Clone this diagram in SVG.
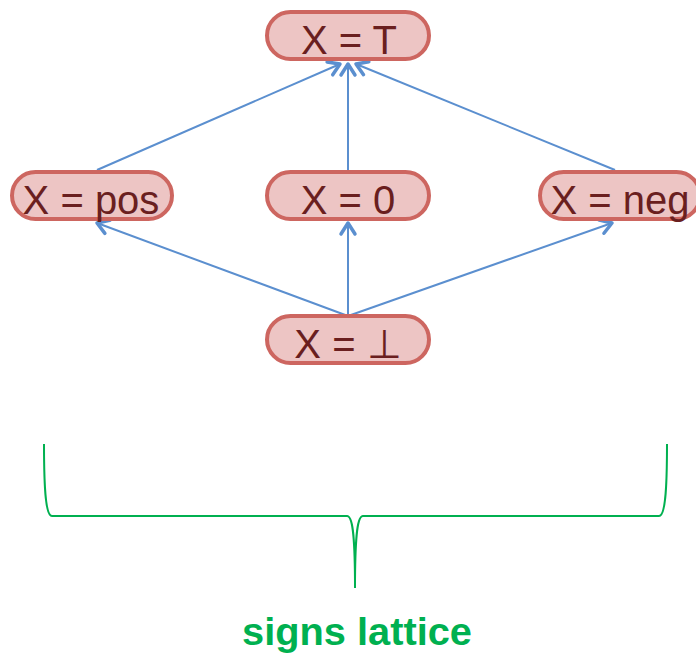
<svg xmlns="http://www.w3.org/2000/svg" width="696" height="655" viewBox="0 0 696 655">
<style>
.node rect{fill:#edc5c4;stroke:#cd6660;stroke-width:4}
.node text{font-family:"Liberation Sans",Arial,sans-serif;font-size:40px;fill:#6a1f1f;text-anchor:middle}
.edge{stroke:#5b8fcf;stroke-width:2;fill:none;marker-end:url(#arr)}
</style>
<defs>
<marker id="arr" markerUnits="userSpaceOnUse" markerWidth="20" markerHeight="20" refX="0" refY="0" viewBox="-12 -10 14 20" orient="auto" overflow="visible">
<path d="M-11,-7 L0,0 L-11,7" fill="none" stroke="#5b8fcf" stroke-width="3.5" stroke-linecap="round" stroke-linejoin="round"/>
</marker>
</defs>
<rect width="696" height="655" fill="#ffffff"/>
<g id="connectors">
<line class="edge" x1="97" y1="170" x2="340" y2="64"/>
<line class="edge" x1="348" y1="170" x2="348" y2="64"/>
<line class="edge" x1="615" y1="170" x2="356" y2="64"/>
<line class="edge" x1="348" y1="316" x2="97" y2="223"/>
<line class="edge" x1="348" y1="316" x2="348" y2="223"/>
<line class="edge" x1="348" y1="316" x2="612" y2="223"/>
</g>
<g id="top" class="node"><rect x="267" y="12" width="162" height="47" rx="23.5"/><text x="349" y="54">X = T</text></g>
<g id="pos" class="node"><rect x="12" y="172" width="160" height="47" rx="23.5"/><text x="91" y="214">X = pos</text></g>
<g id="zero" class="node"><rect x="267" y="172" width="162" height="47" rx="23.5"/><text x="348" y="214">X = 0</text></g>
<g id="neg" class="node"><rect x="540" y="172" width="160" height="47" rx="23.5"/><text x="620" y="214">X = neg</text></g>
<g id="bottom" class="node"><rect x="267" y="316" width="162" height="47" rx="23.5"/><text x="348" y="358">X = ⊥</text></g>
<g id="brace">
<path d="M44,444 C44,492 46,516 52,516 L347,516 C352,516 355,530 355,588 C355,530 358,516 363,516 L659,516 C665,516 667,492 667,444" fill="none" stroke="#00b050" stroke-width="2"/>
<text x="357" y="645" font-family="Liberation Sans,Arial,sans-serif" font-size="38" font-weight="bold" fill="#00b050" text-anchor="middle" textLength="230" lengthAdjust="spacingAndGlyphs">signs lattice</text>
</g>
</svg>
